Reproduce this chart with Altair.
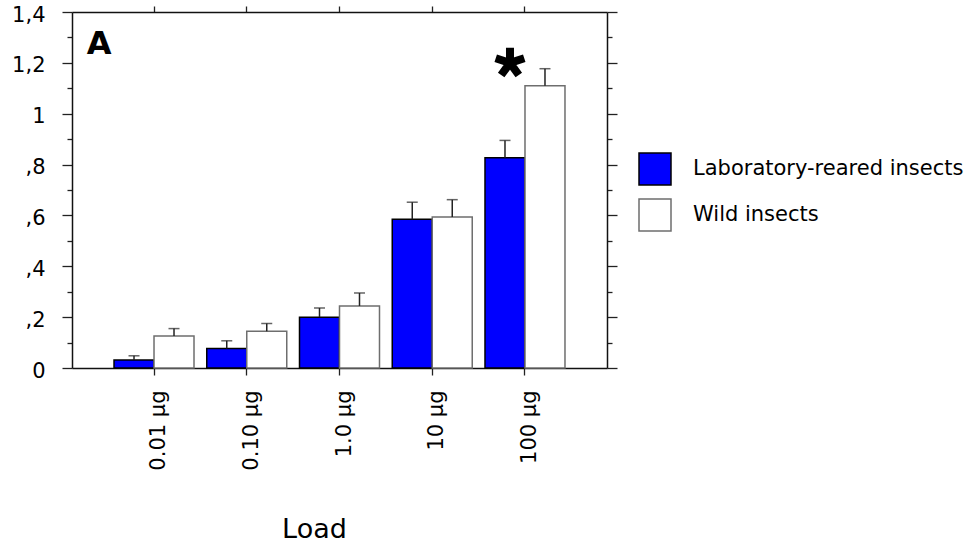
import altair as alt
import pandas as pd

# Dose groups and the two insect populations
LOADS = ["0.01 μg", "0.10 μg", "1.0 μg", "10 μg", "100 μg"]
GROUPS = ["Laboratory-reared insects", "Wild insects"]

# Mean response and standard error per dose
LAB_MEAN = [0.031, 0.077, 0.200, 0.585, 0.827]
LAB_SE = [0.017, 0.030, 0.036, 0.067, 0.068]
WILD_MEAN = [0.126, 0.145, 0.244, 0.594, 1.110]
WILD_SE = [0.029, 0.030, 0.051, 0.068, 0.067]

# Y axis ticks (major every 0.2, minor in between)
Y_TICKS = [0.0, 0.1, 0.2, 0.3, 0.4, 0.5, 0.6, 0.7, 0.8, 0.9, 1.0, 1.1, 1.2, 1.3, 1.4]

# Significance marker and panel letter
SIG_LOAD = "100 μg"
SIG_Y = 1.2
PANEL = "A"

rows = []
for i, load in enumerate(LOADS):
    for group, means, ses in ((GROUPS[0], LAB_MEAN, LAB_SE), (GROUPS[1], WILD_MEAN, WILD_SE)):
        rows.append({"load": load, "group": group, "mean": means[i], "upper": means[i] + ses[i]})
df = pd.DataFrame(rows)

FONT = "DejaVu Sans"
x_scale = alt.Scale(paddingInner=0.1375, paddingOuter=0.453)
y_scale = alt.Scale(domain=[0, 1.4], nice=False, zero=True)
xo = alt.XOffset("group:N", sort=GROUPS, scale=alt.Scale(paddingInner=0, paddingOuter=0))

minor_test = "round(datum.value * 10) % 2 == 1"
tick_len = {"condition": {"test": minor_test, "value": 5}, "value": 10}
label_expr = (
    "round(datum.value * 10) % 2 == 1 ? '' : "
    "(datum.value == 0 ? '0' : replace(replace(format(datum.value, '.1~f'), '0.', '.'), '.', ','))"
)

left_axis = alt.Axis(
    orient="left", values=Y_TICKS, labelExpr=label_expr, tickSize=tick_len,
    labelFontSize=21, labelPadding=17, labelOffset=3, title=None, grid=False,
)
right_axis = alt.Axis(
    orient="right", values=Y_TICKS, labels=False, tickSize=tick_len, title=None, grid=False,
)
bottom_axis = alt.Axis(
    orient="bottom", labelAngle=270, labelFontSize=21, labelPadding=15, labelOffset=5,
    tickSize=7, title="Load", titleFontSize=27, titleFontWeight="normal",
    titleX=242, titleY=169, titleAlign="center", titleBaseline="alphabetic", titleAngle=0,
)
top_axis = alt.Axis(orient="top", labels=False, tickSize=6, title=None)

legend = alt.Legend(
    orient="none", legendX=566, legendY=140, title=None, symbolType="square",
    symbolSize=1024, symbolStrokeWidth=1.5, labelFontSize=21, labelFont=FONT,
    labelColor="black", labelOffset=21, rowPadding=8, labelLimit=400,
)

base = alt.Chart(df)

bars = base.mark_bar(strokeWidth=1.5).encode(
    x=alt.X("load:N", sort=LOADS, scale=x_scale, axis=bottom_axis),
    xOffset=xo,
    y=alt.Y("mean:Q", scale=y_scale, axis=left_axis),
    fill=alt.Fill("group:N", sort=GROUPS,
                  scale=alt.Scale(domain=GROUPS, range=["#0000ff", "#ffffff"]), legend=legend),
    stroke=alt.Stroke("group:N", sort=GROUPS,
                      scale=alt.Scale(domain=GROUPS, range=["#000000", "#6e6e6e"]), legend=legend),
)

stems = base.mark_rule(color="#222222", strokeWidth=1.5).encode(
    x=alt.X("load:N", sort=LOADS, scale=x_scale, axis=None),
    xOffset=xo,
    y=alt.Y("mean:Q", scale=y_scale, axis=None),
    y2="upper:Q",
)

caps = base.mark_tick(color="#222222", thickness=1.5, size=11, orient="horizontal").encode(
    x=alt.X("load:N", sort=LOADS, scale=x_scale, axis=None),
    xOffset=xo,
    y=alt.Y("upper:Q", scale=y_scale, axis=None),
)

# Frame: top and right axes sharing the same scales
frame = base.mark_bar(opacity=0).encode(
    x=alt.X("load:N", sort=LOADS, scale=x_scale, axis=top_axis),
    y=alt.Y("mean:Q", scale=y_scale, axis=right_axis),
)

# Five-armed asterisk marking the significant difference
STAR_PATH = ("M0,0L0,-1M0,0L0.951,-0.309M0,0L0.588,0.809"
             "M0,0L-0.588,0.809M0,0L-0.951,-0.309")
star = alt.Chart(pd.DataFrame({"load": [SIG_LOAD], "y": [SIG_Y]})).mark_point(
    shape=STAR_PATH, size=900, filled=False, stroke="black", strokeWidth=8, opacity=1,
    xOffset=-15,
).encode(
    x=alt.X("load:N", sort=LOADS, scale=x_scale, axis=None),
    y=alt.Y("y:Q", scale=y_scale, axis=None),
)

panel = alt.Chart(pd.DataFrame({"panel": [PANEL]})).mark_text(
    font=FONT, fontSize=32, fontWeight="bold", align="center", baseline="alphabetic", color="black",
).encode(text="panel:N", x=alt.value(27), y=alt.value(42))

chart = (
    alt.layer(bars, stems, caps, frame, star, panel)
    .properties(
        width=535, height=356,
        autosize=alt.AutoSizeParams(type="none"),
        padding={"left": 72, "top": 12, "right": 367, "bottom": 178},
    )
    .resolve_axis(x="independent", y="independent")
    .configure_view(stroke=None)
    .configure_axis(
        domainColor="#111111", domainWidth=1.5, tickColor="#222222", tickWidth=1.3,
        labelColor="black", titleColor="black", labelFont=FONT, titleFont=FONT, grid=False,
    )
)

chart.save("out.html", embed_options={"renderer": "svg", "actions": False})
